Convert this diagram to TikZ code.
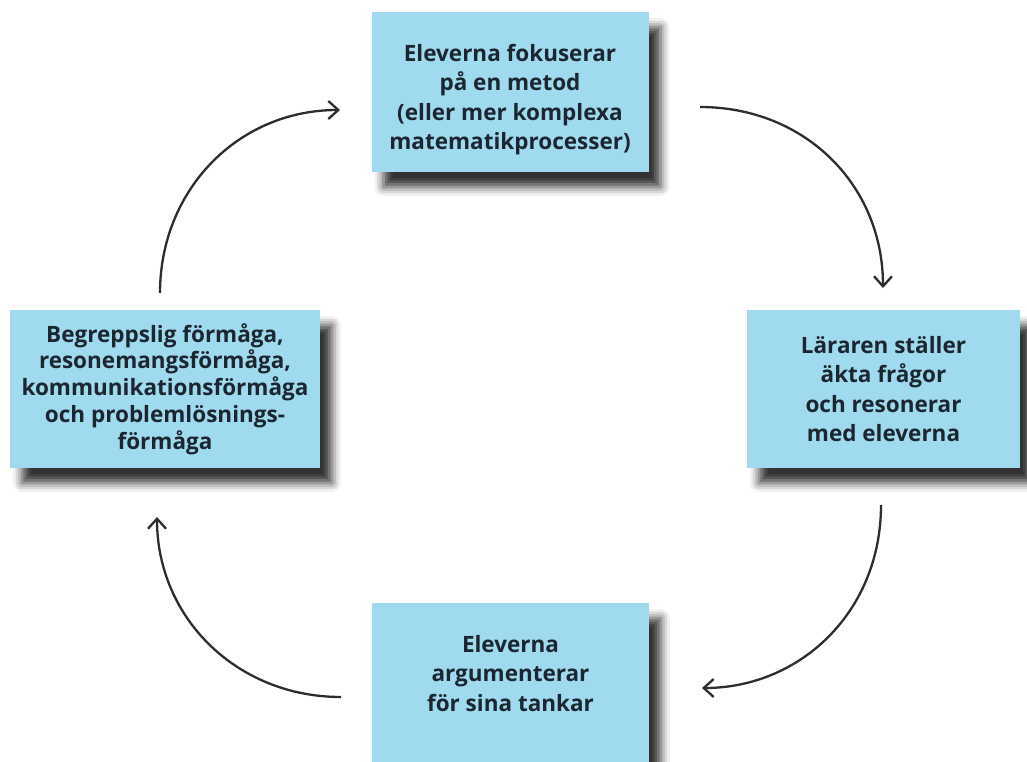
\documentclass[tikz,border=0pt]{standalone}
\usepackage{fontspec}
\setmainfont{Open Sans}
\usetikzlibrary{arrows.meta,shadows.blur}
\definecolor{boxblue}{RGB}{160,218,238}
\definecolor{txtcol}{RGB}{28,38,48}
\definecolor{arrcol}{RGB}{45,45,45}
\tikzset{
  stepbox/.style={rectangle, fill=boxblue, align=center, text=txtcol,
    font=\fontsize{22.5}{29.5}\selectfont\bfseries, inner sep=0pt,
    blur shadow={shadow xshift=12pt, shadow yshift=-15pt, shadow blur radius=9pt, shadow opacity=80}},
  cyc/.style={draw=arrcol, line width=2.3pt, -{Straight Barb[length=10pt,width=18pt,line width=2.3pt]}}
}
\begin{document}
\begin{tikzpicture}[x=1pt,y=-1pt]
\useasboundingbox (0,0) rectangle (1027,762);
\node[stepbox, minimum width=277, minimum height=160] (top) at (510,92)
  {\raisebox{-13pt}[0pt][0pt]{\begin{tabular}{@{}c@{}}Eleverna fokuserar\\på en metod\\(eller mer komplexa\\matematikprocesser)\end{tabular}}};
\node[stepbox, minimum width=273, minimum height=158] (right) at (883.5,389)
  {Läraren ställer\\äkta frågor\\och resonerar\\med eleverna};
\node[stepbox, minimum width=277, minimum height=162] (bottom) at (510.5,684)
  {\raisebox{3pt}[0pt][0pt]{\begin{tabular}{@{}c@{}}Eleverna\\argumenterar\\för sina tankar\end{tabular}}};
\node[stepbox, font=\fontsize{22.5}{26.8}\selectfont\bfseries, minimum width=310, minimum height=158] (left) at (165,389)
  {Begreppslig förmåga,\\resonemangsförmåga,\\kommunikationsförmåga\\och problemlösnings-\\förmåga};
\coordinate (a1s) at (700,107);
\coordinate (a1e) at (883,288);
\coordinate (a2s) at (881,505);
\coordinate (a2e) at (702,688);
\coordinate (a3s) at (341,697);
\coordinate (a3e) at (157,517);
\coordinate (a4s) at (160,293);
\coordinate (a4e) at (340,110);
\draw[cyc] (a1s) .. controls (805,107) and (883,185) .. (a1e);
\draw[cyc] (a2s) .. controls (881,612) and (800,688) .. (a2e);
\draw[cyc] (a3s) .. controls (237,697) and (157,618) .. (a3e);
\draw[cyc] (a4s) .. controls (160,190) and (238,110) .. (a4e);
\end{tikzpicture}
\end{document}
